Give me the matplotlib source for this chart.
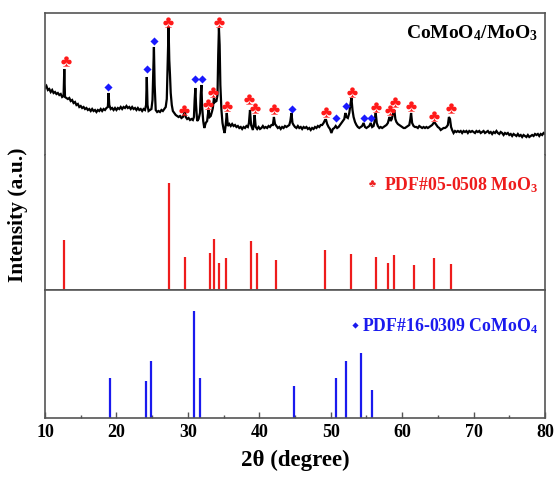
import matplotlib
matplotlib.use("Agg")
import matplotlib.pyplot as plt
from matplotlib.ticker import MultipleLocator

plt.rcParams['font.family'] = ['Liberation Serif', 'DejaVu Serif']
plt.rcParams['font.weight'] = 'bold'
plt.rcParams['mathtext.fontset'] = 'custom'
plt.rcParams['mathtext.rm'] = 'Liberation Serif:bold'
plt.rcParams['mathtext.bf'] = 'Liberation Serif:bold'
plt.rcParams['mathtext.it'] = 'Liberation Serif:bold'
plt.rcParams['mathtext.default'] = 'bf'

# ---------------- data ----------------
# measured pattern (CoMoO4/MoO3), intensity in a.u.
two_theta = [
    10.0, 10.2, 10.4, 10.6, 10.8, 11.0, 11.2, 11.4, 11.6, 11.8, 12.0, 12.2, 12.4, 12.6, 12.7, 12.8,
    13.0, 13.2, 13.4, 13.6, 13.8, 14.0, 14.2, 14.4, 14.6, 14.8, 15.0, 15.2, 15.4, 15.6, 15.8,
    16.0, 16.2, 16.4, 16.6, 16.8, 17.0, 17.2, 17.4, 17.6, 17.8, 18.0, 18.2, 18.4, 18.6, 18.8, 18.9,
    19.0, 19.2, 19.4, 19.6, 19.8, 20.0, 20.2, 20.4, 20.6, 20.8, 21.0, 21.2, 21.4, 21.6, 21.8,
    22.0, 22.2, 22.4, 22.6, 22.8, 23.0, 23.2, 23.4, 23.6, 23.8, 24.0, 24.15, 24.25, 24.35, 24.5,
    24.7, 24.9, 25.05, 25.15, 25.25, 25.35, 25.5, 25.7, 25.9, 26.1, 26.3, 26.5, 26.7, 26.9,
    27.05, 27.2, 27.3, 27.4, 27.5, 27.6, 27.75, 27.9, 28.1, 28.3, 28.5, 28.7, 28.9, 29.1, 29.3,
    29.5, 29.6, 29.7, 29.9, 30.1, 30.3, 30.5, 30.7, 30.85, 30.95, 31.05, 31.15, 31.3, 31.5, 31.7,
    31.8, 31.9, 32.0, 32.15, 32.3, 32.5, 32.7, 32.8, 32.9, 33.05, 33.2, 33.4, 33.5, 33.65, 33.8,
    34.0, 34.15, 34.25, 34.35, 34.45, 34.55, 34.7, 34.85, 35.0, 35.15, 35.3, 35.45, 35.6, 35.8,
    36.0, 36.2, 36.4, 36.6, 36.8, 37.0, 37.2, 37.4, 37.6, 37.8, 38.0, 38.2, 38.4, 38.55, 38.7,
    38.85, 39.0, 39.1, 39.25, 39.35, 39.5, 39.7, 39.9, 40.1, 40.3, 40.5, 40.7, 40.9, 41.1, 41.3,
    41.5, 41.7, 41.9, 42.05, 42.2, 42.4, 42.6, 42.8, 43.0, 43.2, 43.4, 43.6, 43.8, 44.0, 44.2,
    44.35, 44.5, 44.65, 44.8, 45.0, 45.2, 45.4, 45.6, 45.8, 46.0, 46.2, 46.4, 46.6, 46.8, 47.0,
    47.2, 47.4, 47.6, 47.8, 48.0, 48.2, 48.4, 48.6, 48.8, 49.0, 49.2, 49.35, 49.5, 49.7, 49.9,
    50.1, 50.3, 50.5, 50.7, 50.9, 51.1, 51.3, 51.5, 51.7, 51.9, 52.05, 52.2, 52.4, 52.6, 52.75,
    52.9, 53.05, 53.2, 53.4, 53.6, 53.8, 54.0, 54.2, 54.4, 54.6, 54.8, 55.0, 55.2, 55.4, 55.6,
    55.8, 56.0, 56.15, 56.3, 56.45, 56.6, 56.8, 57.0, 57.2, 57.4, 57.6, 57.8, 58.0, 58.15, 58.25,
    58.4, 58.55, 58.75, 58.9, 59.05, 59.2, 59.4, 59.6, 59.8, 60.0, 60.2, 60.4, 60.6, 60.8, 61.0,
    61.15, 61.25, 61.4, 61.6, 61.8, 62.0, 62.2, 62.4, 62.6, 62.8, 63.0, 63.2, 63.4, 63.6, 63.8,
    64.0, 64.2, 64.4, 64.6, 64.8, 65.0, 65.2, 65.4, 65.6, 65.8, 66.0, 66.2, 66.4, 66.55, 66.7,
    66.85, 67.0, 67.2, 67.4, 67.6, 67.8, 68.0, 68.2, 68.4, 68.6, 68.8, 69.0, 69.2, 69.4, 69.6,
    69.8, 70.0, 70.2, 70.4, 70.6, 70.8, 71.0, 71.2, 71.4, 71.6, 71.8, 72.0, 72.2, 72.4, 72.6,
    72.8, 73.0, 73.2, 73.4, 73.6, 73.8, 74.0, 74.2, 74.4, 74.6, 74.8, 75.0, 75.2, 75.4, 75.6,
    75.8, 76.0, 76.2, 76.4, 76.6, 76.8, 77.0, 77.2, 77.4, 77.6, 77.8, 78.0, 78.2, 78.4, 78.6,
    78.8, 79.0, 79.2, 79.4, 79.6, 79.8, 80.0,
]
intensity = [
    67, 69, 65, 66, 63, 65, 62, 63, 61, 62, 60, 61, 58, 59, 86, 58,
    57, 56, 57, 54, 55, 52, 53, 50, 51, 48, 49, 47, 48, 46, 47,
    45, 46, 44, 46, 44, 45, 43, 45, 44, 46, 44, 46, 45, 47, 48, 62,
    50, 46, 47, 45, 47, 45, 47, 46, 48, 46, 48, 47, 49, 47, 48,
    46, 48, 46, 47, 45, 47, 45, 46, 44, 46, 45, 50, 78, 50, 44,
    45, 46, 55, 80, 108, 70, 45, 43, 44, 43, 45, 44, 46, 48,
    56, 100, 128, 95, 80, 62, 50, 44, 42, 40, 39, 38, 39, 37, 38,
    42, 43, 38, 36, 37, 35, 36, 35, 38, 55, 67, 50, 34, 36, 42,
    60, 70, 48, 34, 27, 32, 34, 40, 45, 38, 39, 44, 47, 57, 53,
    54, 60, 100, 127, 110, 70, 45, 32, 26, 22, 30, 42, 29, 31,
    29, 31, 29, 30, 28, 29, 27, 28, 26, 28, 27, 29, 28, 32, 45,
    30, 27, 25, 32, 40, 28, 26, 28, 26, 27, 29, 27, 28, 27, 29,
    28, 30, 30, 38, 31, 29, 27, 28, 26, 28, 27, 29, 28, 29, 30,
    34, 42, 32, 30, 28, 27, 29, 27, 28, 26, 28, 27, 28, 26, 27,
    25, 27, 26, 28, 27, 29, 28, 30, 30, 32, 35, 35, 31, 28, 26,
    22, 26, 27, 29, 27, 28, 30, 32, 34, 36, 42, 38, 37, 42, 50,
    57, 45, 38, 33, 30, 28, 27, 28, 29, 32, 28, 27, 28, 29, 32,
    28, 29, 34, 42, 32, 29, 27, 28, 27, 28, 29, 30, 32, 36, 38,
    34, 36, 42, 45, 36, 33, 31, 30, 29, 28, 27, 27, 28, 29, 30,
    36, 42, 32, 29, 28, 28, 27, 29, 28, 27, 28, 27, 28, 27, 28,
    29, 30, 32, 32, 30, 28, 27, 25, 26, 27, 27, 28, 30, 38, 36,
    28, 25, 22, 24, 23, 24, 23, 24, 22, 24, 23, 24, 22, 24, 23,
    24, 23, 22, 24, 23, 24, 22, 23, 24, 22, 23, 24, 22, 23, 21,
    23, 22, 24, 22, 21, 23, 22, 20, 22, 21, 22, 20, 21, 19, 21,
    20, 19, 21, 19, 20, 18, 20, 19, 18, 20, 18, 19, 20, 19, 21,
    20, 21, 19, 21, 20, 22, 21,
]

# phase markers on the measured pattern
moo3_mark_x = [12.9, 27.26, 29.46, 32.78, 33.52, 34.40, 35.48, 38.60, 39.40, 42.10,
               49.34, 52.94, 56.30, 58.30, 59.0, 61.24, 64.46, 66.80]
moo3_mark_y = [94, 132.7, 45, 51, 62.7, 132.7, 49, 55.7, 46.7, 46,
               43.3, 62.7, 48.3, 45, 53.3, 49.3, 39.3, 46.7]
comoo4_mark_x = [18.78, 24.32, 25.26, 30.96, 32.02, 44.54, 50.70, 52.18, 54.62, 55.60]
comoo4_mark_y = [68.3, 86, 114, 76.3, 76.3, 46, 37.3, 49, 37.3, 37.3]

# PDF#05-0508 MoO3 reference lines
moo3_pos = [12.7, 27.3, 29.6, 33.06, 33.7, 34.3, 35.4, 38.9, 39.7, 42.3,
            49.2, 52.8, 56.4, 58.0, 58.8, 61.6, 64.5, 66.8]
moo3_int = [47, 100, 31, 35, 48, 25, 30, 46, 35, 28,
            37, 34, 31, 25, 33, 23, 30, 24]

# PDF#16-0309 CoMoO4 reference lines
comoo4_pos = [19.1, 24.1, 24.9, 30.9, 31.7, 44.8, 50.8, 52.2, 54.3, 55.8]
comoo4_int = [37, 34, 53, 100, 37, 29, 37, 53, 60, 26]

x_ticks = [10, 20, 30, 40, 50, 60, 70, 80]

# ---------------- figure ----------------
W, H = 555, 480
fig = plt.figure(figsize=(W / 100, H / 100), dpi=100)

L, R = 45, 545
def box(top_px, bot_px):
    return [L / W, (H - bot_px) / H, (R - L) / W, (bot_px - top_px) / H]

ax1 = fig.add_axes(box(13, 155))
ax2 = fig.add_axes(box(155, 290))
ax3 = fig.add_axes(box(290, 417.5))

frame_col = '#555555'
for ax in (ax1, ax2, ax3):
    ax.set_xlim(10, 80)
    for s in ax.spines.values():
        s.set_color(frame_col)
        s.set_linewidth(1.2)
    ax.set_yticks([])

ax1.spines['bottom'].set_visible(False)
ax2.spines['top'].set_visible(False)
for ax in (ax1, ax2):
    ax.set_xticks([])

# top: measured pattern
ax1.plot(two_theta, intensity, color='black', lw=1.6, solid_joinstyle='miter')
ax1.scatter(moo3_mark_x, moo3_mark_y, marker=r'$\clubsuit$', s=55, color='#ff1a1a',
            linewidths=0, zorder=3)
ax1.scatter(comoo4_mark_x, comoo4_mark_y, marker='D', s=17, color='#1a1aff',
            linewidths=0, zorder=3)
ax1.set_ylim(0, 142)
ax1.text(0.986, 0.86, r'CoMoO$_4$/MoO$_3$', transform=ax1.transAxes, ha='right',
         va='center', fontsize=14, fontweight='bold', color='black')

# middle: MoO3 reference
ax2.vlines(moo3_pos, 0, moo3_int, color='#ee1c1c', lw=1.6)
ax2.set_ylim(0, 100 * 135 / 107)
ax2.scatter([0.654], [0.79], marker=r'$\clubsuit$', s=22, color='#ee1c1c',
            transform=ax2.transAxes, linewidths=0)
ax2.text(0.986, 0.775, r'PDF#05-0508 MoO$_3$', transform=ax2.transAxes, ha='right',
         va='center', fontsize=12.8, fontweight='bold', color='#ee1c1c')

# bottom: CoMoO4 reference
ax3.vlines(comoo4_pos, 0, comoo4_int, color='#1a1aee', lw=1.6)
ax3.set_ylim(0, 100 * 127.5 / 107)
ax3.scatter([0.62], [0.725], marker='D', s=10, color='#1a1aee',
            transform=ax3.transAxes, linewidths=0)
ax3.text(0.986, 0.72, r'PDF#16-0309 CoMoO$_4$', transform=ax3.transAxes, ha='right',
         va='center', fontsize=12.8, fontweight='bold', color='#1a1aee')

ax3.set_xticks(x_ticks)
ax3.xaxis.set_minor_locator(MultipleLocator(5))
ax3.tick_params(axis='x', which='major', direction='in', length=4, width=1.0,
                color=frame_col, labelsize=13, pad=5)
ax3.tick_params(axis='x', which='minor', direction='in', length=2.5, width=1.0,
                color=frame_col)
for lab in ax3.get_xticklabels():
    lab.set_fontweight('bold')
ax3.set_xlabel('2θ (degree)', fontsize=16.5, fontweight='bold', labelpad=6)

fig.text(18 / W, 1 - 215 / H, 'Intensity (a.u.)', rotation=90, ha='center', va='center',
         fontsize=15.5, fontweight='bold')

fig.savefig('out.png', dpi=100)
